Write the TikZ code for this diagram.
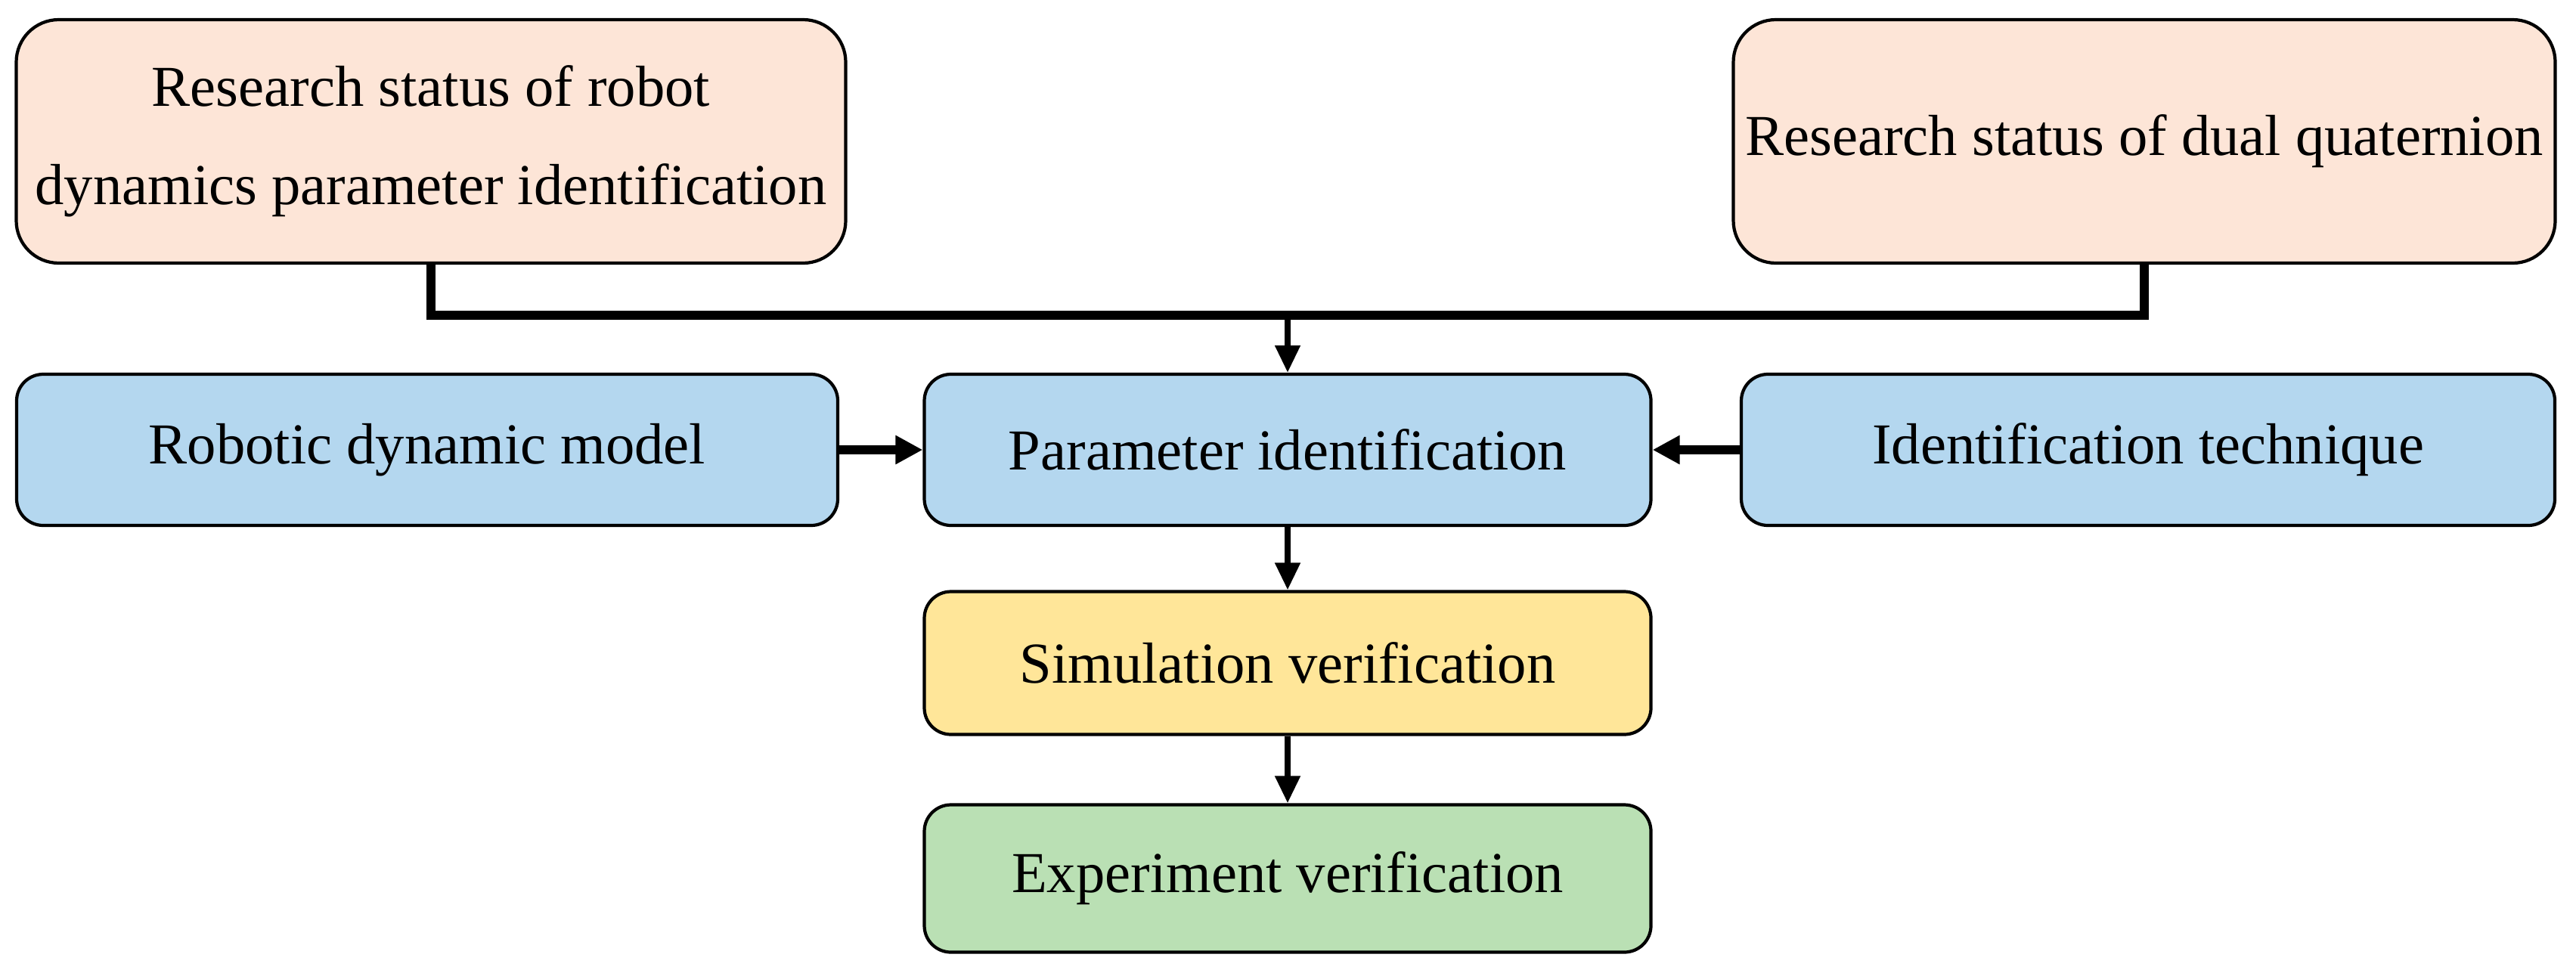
\documentclass[tikz,border=0pt]{standalone}
\usepackage{fontspec}
\setmainfont{Liberation Serif}
\usepackage{tikz}
\usetikzlibrary{positioning,calc,arrows.meta}

\definecolor{peach}{HTML}{FDE5D7}
\definecolor{skyblue}{HTML}{B4D7EF}
\definecolor{sand}{HTML}{FFE699}
\definecolor{mint}{HTML}{BAE0B4}

\begin{document}
\begin{tikzpicture}[
        every node/.style={font=\fontsize{21.8}{37}\selectfont},
        box/.style={rectangle, draw=black, line width=1.2pt, align=center, inner sep=0pt, rounded corners=10pt},
        topbox/.style={box, fill=peach, minimum height=3.22cm, rounded corners=16pt},
        midbox/.style={box, fill=skyblue, minimum height=2.0cm},
        arrow/.style={-{Triangle[length=0.36cm, width=0.32cm]}, line width=2.2pt, draw=black},
        thickarrow/.style={-{Triangle[length=0.36cm, width=0.36cm]}, line width=3.2pt, draw=black},
        bus/.style={line width=3.2pt, draw=black},
    ]
        \useasboundingbox (0,0) rectangle (34.07,-12.90);

        \node[topbox, minimum width=10.97cm] (robot) at (5.70,-1.87) {Research status of robot\\dynamics parameter identification};
        \node[topbox, minimum width=10.87cm] (quat) at (28.36,-1.87) {Research status of dual quaternion};
        \node[midbox, minimum width=10.86cm] (model) at (5.65,-5.95) {Robotic dynamic model};
        \node[midbox, minimum width=9.61cm] (param) at (17.03,-5.95) {Parameter identification};
        \node[midbox, minimum width=10.76cm] (tech) at (28.41,-5.95) {Identification technique};
        \node[box, fill=sand, minimum width=9.61cm, minimum height=1.89cm] (sim) at (17.03,-8.77) {Simulation verification};
        \node[box, fill=mint, minimum width=9.61cm, minimum height=1.95cm] (exp) at (17.03,-11.62) {Experiment verification};

        \coordinate (join) at (17.03,-4.17);

        \draw[bus] (robot.south) |- (join) -| (quat.south);
        \draw[arrow] (join) -- (param.north);
        \draw[thickarrow] (model) -- (param);
        \draw[thickarrow] (tech) -- (param);
        \draw[arrow] (param) -- (sim);
        \draw[arrow] (sim) -- (exp);

    \end{tikzpicture}
\end{document}
